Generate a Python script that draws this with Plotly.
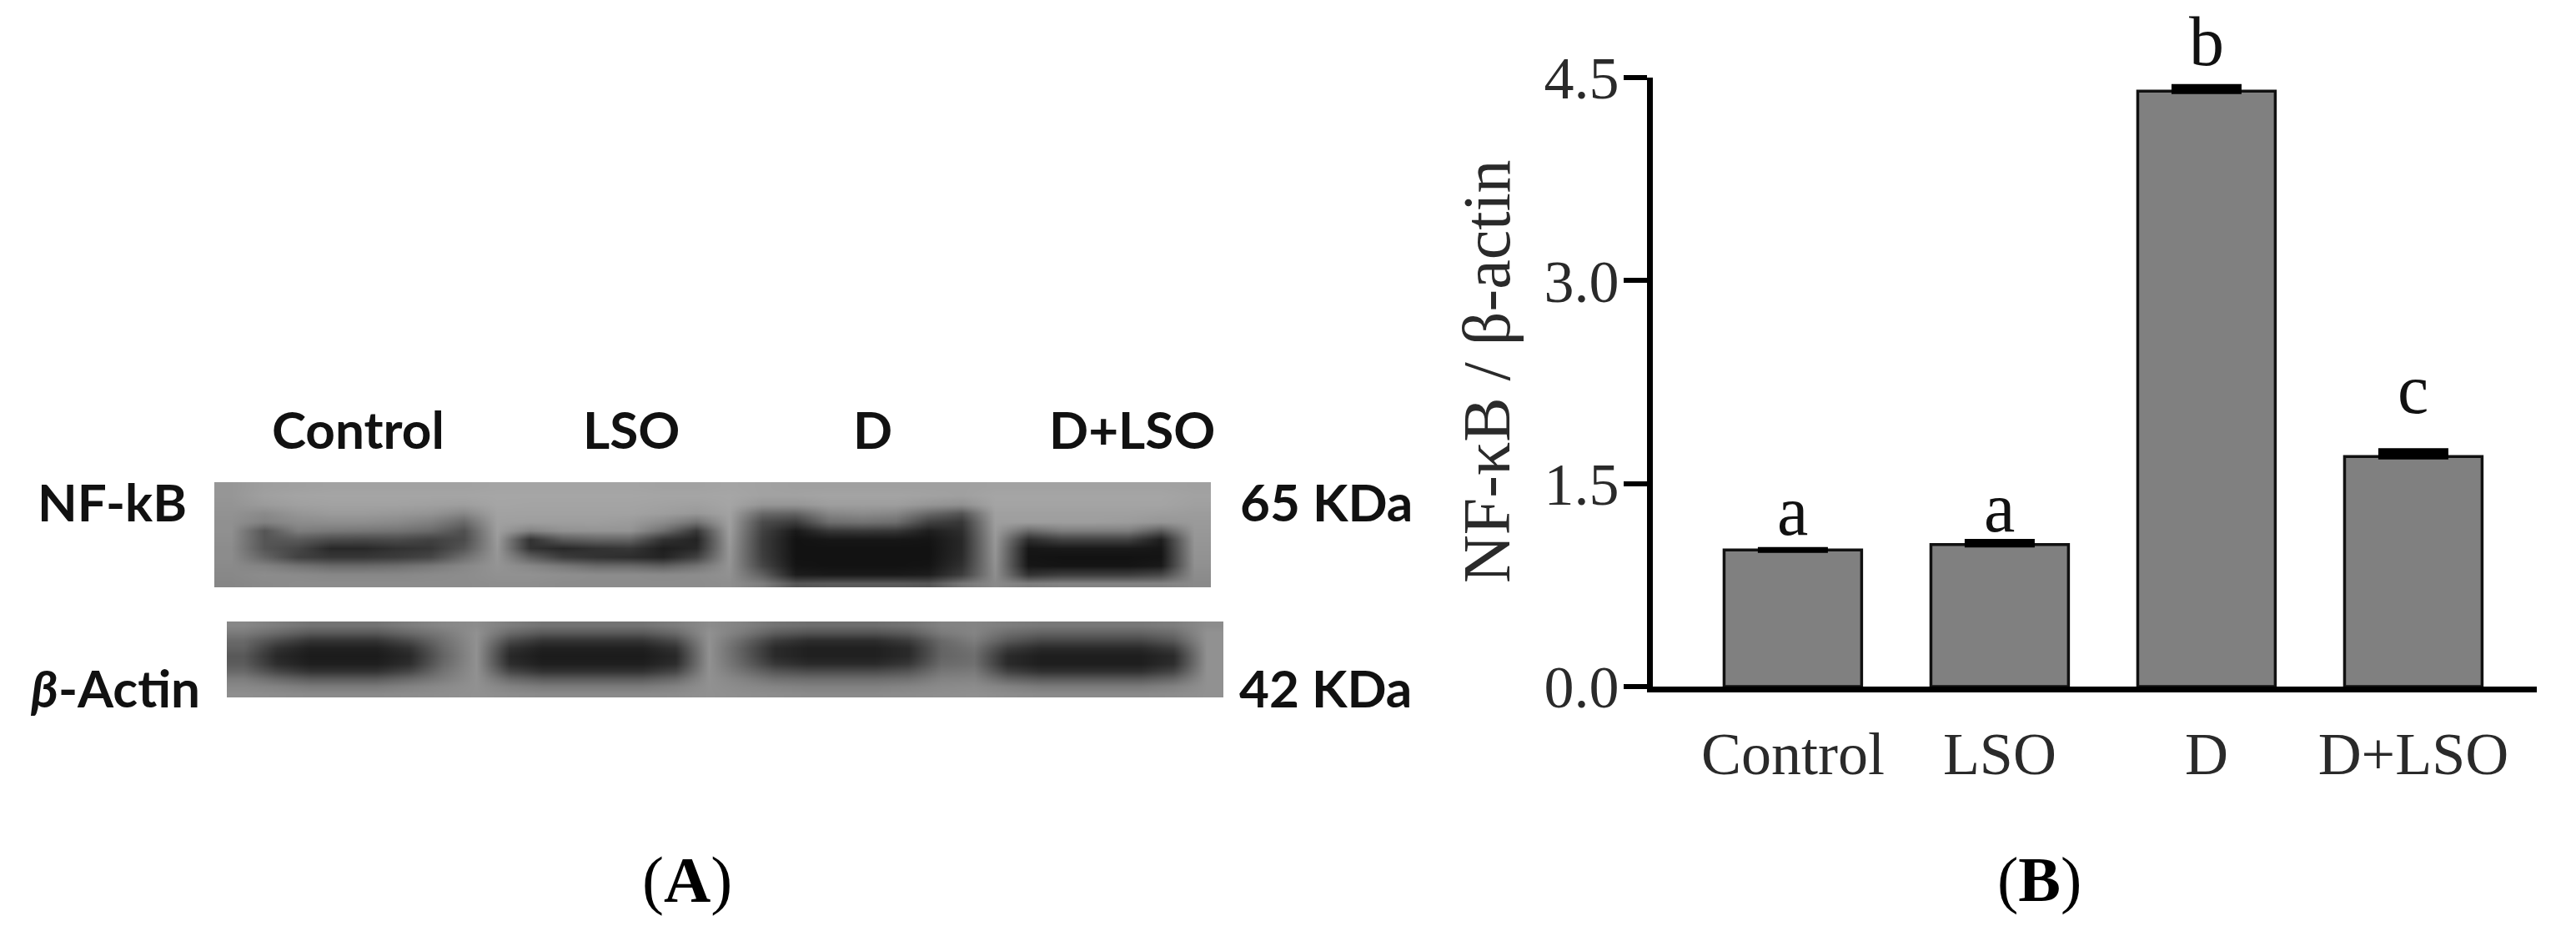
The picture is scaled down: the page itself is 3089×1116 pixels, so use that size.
import plotly.graph_objects as go

W, H = 3089, 1116

# Panel B data
categories = ["Control", "LSO", "D", "D+LSO"]
values = [1.01, 1.05, 4.40, 1.70]
errors = [0.0, 0.02, 0.03, 0.04]
letters = ["a", "a", "b", "c"]
y_ticks = [0, 1.5, 3, 4.5]
y_tick_labels = ["0.0", "1.5", "3.0", "4.5"]

# Panel A labels
lane_labels = ["Control", "LSO", "D", "D+LSO"]
row_labels = ["NF-kB", "<i>β</i>-Actin"]
size_labels = ["65 KDa", "42 KDa"]

# Panel A: grey levels read from the NF-kB blot (rows top to bottom)
nfkb_grey = [
    [150,158,160,162,162,162,162,162,164,164,164,164,164,162,162,164,162,160,160,160,160,160,160,162,162,162,162,162,162,160],
    [150,160,164,165,165,165,165,165,166,166,166,166,166,165,165,166,162,162,164,164,164,162,160,165,165,165,165,165,165,162],
    [148,155,160,162,162,162,160,158,165,164,164,164,164,162,160,165,150,150,158,158,158,150,145,164,164,164,164,164,164,160],
    [146,138,150,155,155,152,148,135,162,162,162,162,162,158,152,162,105,100,135,140,135,105,85,160,160,160,160,160,158,156],
    [144,130,140,142,142,138,128,105,160,158,158,158,155,140,115,160,75,60,110,115,110,65,55,158,158,158,158,156,150,154],
    [144,85,125,120,118,115,105,80,158,130,145,148,148,110,55,158,65,25,55,58,55,30,45,155,105,125,125,125,90,152],
    [142,85,90,75,72,75,65,75,155,50,90,100,100,50,35,155,60,18,22,22,22,20,40,152,45,65,65,65,30,150],
    [140,85,70,40,40,50,55,85,152,50,40,50,55,30,40,152,60,18,18,18,18,18,40,150,22,25,25,25,22,148],
    [140,100,65,55,55,60,70,110,150,95,60,50,45,35,65,150,62,18,18,18,18,18,42,148,20,18,18,18,20,146],
    [138,130,115,105,105,110,120,135,148,135,120,105,105,95,115,148,70,20,18,18,18,20,48,145,22,20,20,20,25,144],
    [136,140,138,135,135,135,138,140,145,145,142,140,140,138,140,145,95,28,25,25,25,28,60,142,50,60,60,60,70,140],
    [134,138,140,140,140,140,140,140,142,142,140,140,140,140,140,142,125,85,90,90,90,85,118,138,125,130,130,130,130,138],
]

# Panel A: grey levels read from the beta-actin blot (rows top to bottom)
actin_grey = [
    [135,125,115,115,115,125,135,140,125,115,115,115,115,125,140,130,115,110,110,110,115,130,132,125,120,120,120,120,125,140],
    [122,105,88,88,88,105,122,145,105,88,88,88,88,105,145,122,92,82,82,82,92,122,132,108,98,98,98,98,108,145],
    [105,75,52,52,52,75,112,145,75,52,52,52,52,75,145,105,60,45,45,45,60,105,125,88,70,70,70,70,88,145],
    [98,50,32,32,32,50,105,145,50,32,32,32,32,50,145,95,42,32,32,32,42,100,115,60,42,42,42,42,60,145],
    [88,40,27,27,27,40,100,145,40,27,27,27,27,40,145,96,42,32,32,32,42,100,110,42,30,30,30,30,42,145],
    [92,45,30,30,30,45,105,145,45,30,30,30,30,45,145,102,55,42,42,42,55,106,112,42,30,30,30,30,45,145],
    [105,70,50,50,50,70,115,145,70,50,50,50,50,70,145,115,85,75,75,75,85,118,122,65,48,48,48,48,68,145],
    [125,105,90,90,90,105,125,145,105,90,90,90,90,105,145,130,112,108,108,108,112,130,132,100,88,88,88,88,102,145],
    [136,130,122,122,122,130,138,145,130,122,122,122,122,130,145,138,132,128,128,128,132,138,140,130,122,122,122,122,130,145],
    [142,140,138,138,138,140,142,145,140,138,138,138,138,140,145,142,140,138,138,138,140,142,144,140,138,138,138,138,140,145],
]

# Vertical nudges for the significance letters, in screen pixels
letter_shift = [-2, -8, 6, 26]

fx = lambda p: p / W
fy = lambda p: 1 - p / H
SERIF = "Liberation Serif"
SANS = "Lato"

fig = go.Figure()

fig.add_trace(go.Bar(
    x=list(range(len(categories))), y=values, width=0.665,
    marker=dict(color="#808080", line=dict(color="#111111", width=3.5)),
    error_y=dict(type="data", array=errors, arrayminus=[0, 0, 0, 0],
                 color="#000000", thickness=7, width=42),
    hoverinfo="skip", xaxis="x", yaxis="y",
))

for z, ax, ay in ((nfkb_grey, "x2", "y2"), (actin_grey, "x3", "y3")):
    fig.add_trace(go.Heatmap(
        z=z, colorscale=[[0, "#000000"], [1, "#ffffff"]], zmin=0, zmax=255,
        showscale=False, zsmooth="best", hoverinfo="skip", xaxis=ax, yaxis=ay,
    ))

hidden = dict(visible=False, showgrid=False, zeroline=False, fixedrange=True, automargin=False)
fig.update_layout(
    width=W, height=H, margin=dict(l=0, r=0, t=0, b=0), showlegend=False,
    paper_bgcolor="white", plot_bgcolor="white",
    font=dict(family=SERIF, color="#2a2a2a"),
    xaxis=dict(
        domain=[fx(1982), fx(3042)], range=[-0.677, 3.597],
        tickmode="array", tickvals=list(range(4)), ticktext=categories,
        ticks="outside", ticklen=12, tickcolor="rgba(0,0,0,0)",
        showline=True, linecolor="#000000", linewidth=7,
        tickfont=dict(family=SERIF, size=72, color="#2a2a2a"),
        showgrid=False, zeroline=False, anchor="y", automargin=False,
    ),
    yaxis=dict(
        domain=[fy(823), fy(93)], range=[0, 4.5],
        tickmode="array", tickvals=y_ticks, ticktext=y_tick_labels,
        ticks="outside", ticklen=28, tickwidth=6, tickcolor="#000000",
        ticklabelstandoff=-9,
        showline=True, linecolor="#000000", linewidth=7,
        tickfont=dict(family=SERIF, size=72, color="#2a2a2a"),
        showgrid=False, zeroline=False, anchor="x", automargin=False,
    ),
    xaxis2=dict(domain=[fx(257), fx(1452)], anchor="y2", range=[-0.5, 29.5], **hidden),
    yaxis2=dict(domain=[fy(704), fy(578)], anchor="x2", range=[11.5, -0.5], **hidden),
    xaxis3=dict(domain=[fx(272), fx(1467)], anchor="y3", range=[-0.5, 29.5], **hidden),
    yaxis3=dict(domain=[fy(836), fy(745)], anchor="x3", range=[9.5, -0.5], **hidden),
)

# Significance letters sit on the bars through the data scale
for i, (v, e, t, s) in enumerate(zip(values, errors, letters, letter_shift)):
    fig.add_annotation(x=i, y=v + e, xref="x", yref="y", text=t, showarrow=False,
                       yanchor="bottom", yshift=s,
                       font=dict(family=SERIF, size=84, color="#111111"))

def label(text, px, py, size, family=SANS, color="#111111", angle=0):
    fig.add_annotation(x=fx(px), y=fy(py), xref="paper", yref="paper", text=text,
                       showarrow=False, xanchor="center", yanchor="middle", textangle=angle,
                       font=dict(family=family, size=size, color=color))

label("NF-κB / β-actin", 1783, 445, 80, SERIF, "#2a2a2a", -90)

for t, px in zip(lane_labels, (429, 757, 1046, 1357)):
    label(f"<b>{t}</b>", px, 514, 62)
for t, (px, py) in zip(row_labels, ((134, 601), (138, 824))):
    label(f"<b>{t}</b>", px, py, 62)
for t, (px, py) in zip(size_labels, ((1590, 601), (1589, 824))):
    label(f"<b>{t}</b>", px, py, 62)

label("(<b>A</b>)", 824, 1054, 78, SERIF, "#000000")
label("(<b>B</b>)", 2445, 1054, 76, SERIF, "#000000")

fig.write_html("out.html", config={"displayModeBar": False},
               post_script="document.body.style.margin='0';")
